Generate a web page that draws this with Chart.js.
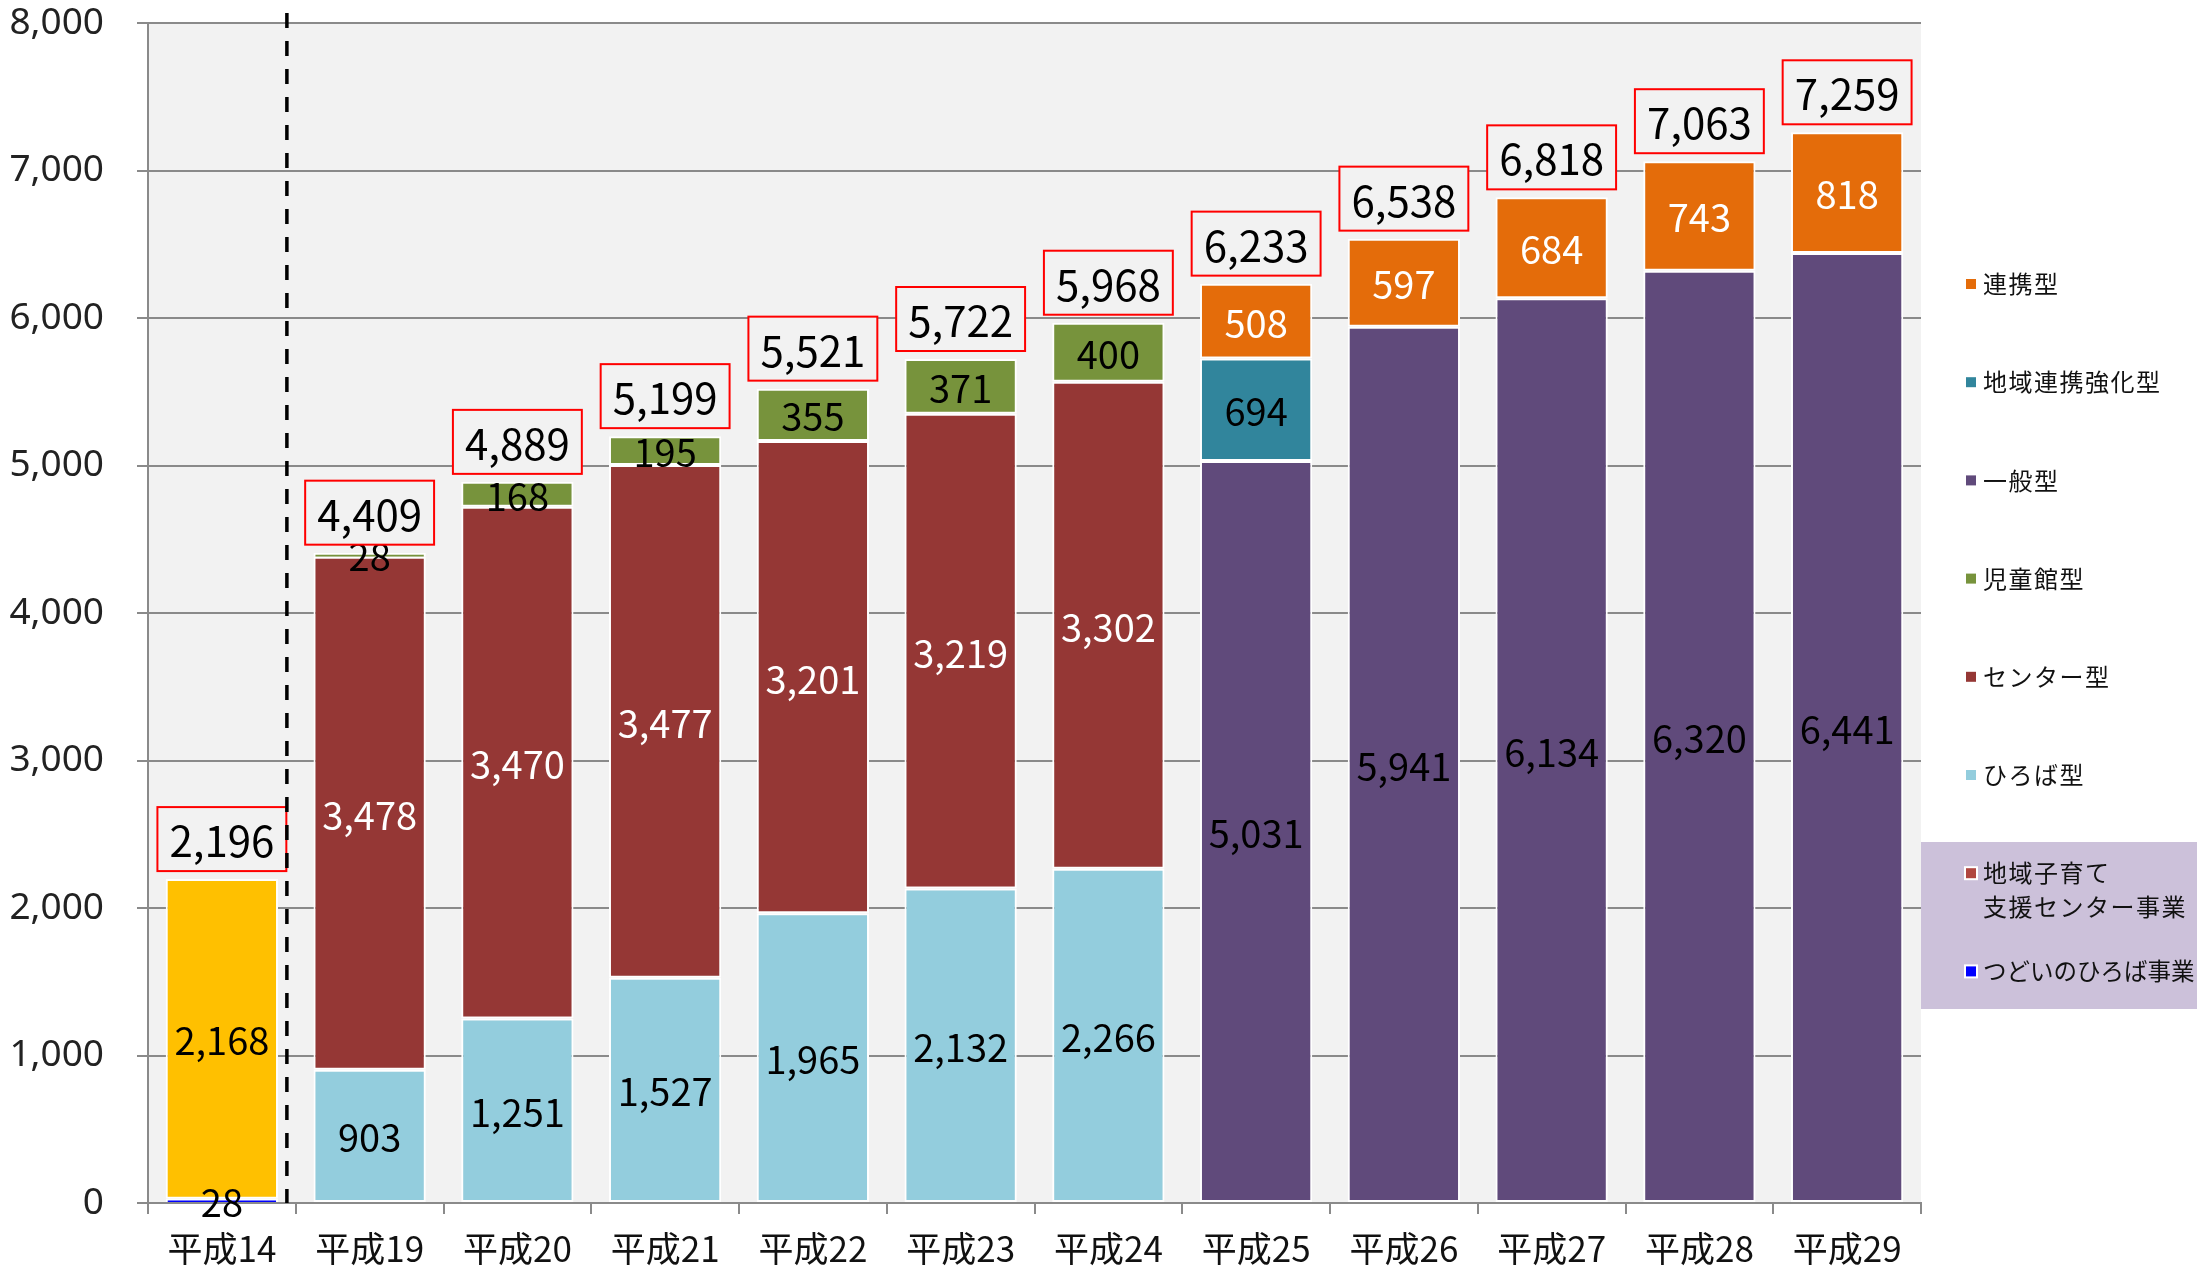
<!DOCTYPE html>
<html lang="ja">
<head>
<meta charset="utf-8">
<title>地域子育て支援拠点事業 実施か所数の推移</title>
<script src="https://cdn.jsdelivr.net/npm/chart.js@4.4.1/dist/chart.umd.min.js"></script>
<style>
    html, body { margin: 0; padding: 0; background: #fff; }
    #wrap { width: 2197px; height: 1267px; }
</style>
</head>
<body>
<div id="wrap"><canvas id="myChart" width="2197" height="1267"></canvas></div>
<script>
// Data (平成14 - 平成29)
const years = ['平成14', '平成19', '平成20', '平成21', '平成22', '平成23', '平成24', '平成25', '平成26', '平成27', '平成28', '平成29'];

const tsudoi      = [28,   null, null, null, null, null, null, null, null, null, null, null];
const shienCenter = [2168, null, null, null, null, null, null, null, null, null, null, null];
const hiroba      = [null, 903, 1251, 1527, 1965, 2132, 2266, null, null, null, null, null];
const centerType  = [null, 3478, 3470, 3477, 3201, 3219, 3302, null, null, null, null, null];
const jidokan     = [null, 28, 168, 195, 355, 371, 400, null, null, null, null, null];
const ippan       = [null, null, null, null, null, null, null, 5031, 5941, 6134, 6320, 6441];
const chiikiKyoka = [null, null, null, null, null, null, null, 694, null, null, null, null];
const renkei      = [null, null, null, null, null, null, null, 508, 597, 684, 743, 818];

const totals = [2196, 4409, 4889, 5199, 5521, 5722, 5968, 6233, 6538, 6818, 7063, 7259];

const legendLabels = [['連携型'], ['地域連携強化型'], ['一般型'], ['児童館型'], ['センター型'], ['ひろば型'], ['地域子育て', '支援センター事業'], ['つどいのひろば事業']];
const legendColors = ['#e46c0a', '#31859c', '#604a7b', '#77933c', '#953735', '#93cddd', '#b0463f', '#0000ff'];

const CJK = '"Noto Sans CJK JP", "Noto Sans", sans-serif';

function makeSet(label, data, color, textColor) {
    return {
        label: label,
        data: data,
        backgroundColor: color,
        borderColor: '#ffffff',
        borderWidth: function(c) {
            const v = c.raw;
            if (v != null && v < 50) return { top: 2, bottom: 0, left: 2, right: 2 };
            return 2;
        },
        borderSkipped: false,
        labelColor: textColor
    };
}

// plot background
const plotBg = {
    id: 'plotBg',
    beforeDraw(chart) {
        const a = chart.chartArea;
        const ctx = chart.ctx;
        ctx.save();
        ctx.fillStyle = '#f2f2f2';
        ctx.fillRect(a.left, a.top, a.right - a.left, a.bottom - a.top);
        ctx.restore();
    }
};

// values inside bars + total boxes + dashed separator
const barLabels = {
    id: 'barLabels',
    afterDatasetsDraw(chart) {
        const ctx = chart.ctx;
        ctx.save();
        ctx.textAlign = 'center';
        ctx.textBaseline = 'middle';
        ctx.font = '38px ' + CJK;
        chart.data.datasets.forEach(function(ds, i) {
            const meta = chart.getDatasetMeta(i);
            meta.data.forEach(function(bar, j) {
                const v = ds.data[j];
                if (v == null) return;
                ctx.fillStyle = ds.labelColor;
                ctx.fillText(v.toLocaleString('en-US'), bar.x, (bar.y + bar.base) / 2 + 2);
            });
        });

        const xs = chart.scales.x;
        const ys = chart.scales.y;
        ctx.font = '42px ' + CJK;
        totals.forEach(function(t, j) {
            const txt = t.toLocaleString('en-US');
            const x = xs.getPixelForValue(j);
            const top = ys.getPixelForValue(t);
            const w = ctx.measureText(txt).width + 24;
            const h = 64;
            const bx = x - w / 2;
            const by = top - 8 - h;
            ctx.fillStyle = '#f2f2f2';
            ctx.fillRect(bx, by, w, h);
            ctx.strokeStyle = '#ff0000';
            ctx.lineWidth = 2;
            ctx.strokeRect(bx, by, w, h);
            ctx.fillStyle = '#000';
            ctx.fillText(txt, x, by + h / 2 + 2);
        });

        // dashed separator between 平成14 and 平成19
        const x0 = xs.getPixelForValue(0);
        const x1 = xs.getPixelForValue(1);
        const dx = x0 + (x1 - x0) * 0.44;
        ctx.beginPath();
        ctx.setLineDash([15, 13]);
        ctx.lineWidth = 3.5;
        ctx.strokeStyle = '#000';
        ctx.moveTo(dx, chart.chartArea.top - 10);
        ctx.lineTo(dx, chart.chartArea.bottom);
        ctx.stroke();
        ctx.restore();
    }
};

// legend on the right
const sideLegend = {
    id: 'sideLegend',
    afterDraw(chart) {
        const ctx = chart.ctx;
        const left = chart.chartArea.right;
        ctx.save();
        ctx.fillStyle = '#ccc1da';
        ctx.fillRect(left, 842, chart.width - left, 167);
        ctx.textBaseline = 'middle';
        ctx.textAlign = 'left';
        legendLabels.forEach(function(lines, i) {
            const y = 284 + i * 98.2;
            const last = i === legendLabels.length - 1;
            ctx.font = (last ? '23.5px ' : '24px ') + CJK;
            if ('letterSpacing' in ctx) ctx.letterSpacing = last ? '0px' : '1.5px';
            if (i >= 6) {
                ctx.fillStyle = '#ffffff';
                ctx.fillRect(left + 43, y - 7, 14, 14);
            }
            ctx.fillStyle = legendColors[i];
            ctx.fillRect(left + 45, y - 5, 10, 10);
            ctx.fillStyle = '#111';
            lines.forEach(function(line, k) {
                ctx.fillText(line, left + 62, y + k * 34);
            });
        });
        ctx.restore();
    }
};

document.addEventListener('DOMContentLoaded', function() {
    const ctx = document.getElementById('myChart').getContext('2d');
    new Chart(ctx, {
        type: 'bar',
        data: {
            labels: years,
            datasets: [
                makeSet('つどいのひろば事業', tsudoi, '#0000ff', '#000'),
                makeSet('地域子育て支援センター事業', shienCenter, '#ffc000', '#000'),
                makeSet('ひろば型', hiroba, '#93cddd', '#000'),
                makeSet('センター型', centerType, '#953735', '#fff'),
                makeSet('児童館型', jidokan, '#77933c', '#000'),
                makeSet('一般型', ippan, '#604a7b', '#000'),
                makeSet('地域連携強化型', chiikiKyoka, '#31859c', '#000'),
                makeSet('連携型', renkei, '#e46c0a', '#fff')
            ]
        },
        options: {
            responsive: false,
            animation: false,
            layout: { padding: { left: 0, top: 23, right: 276, bottom: 0 } },
            datasets: { bar: { barPercentage: 0.76, categoryPercentage: 1 } },
            plugins: {
                legend: { display: false },
                tooltip: { enabled: false }
            },
            scales: {
                x: {
                    stacked: true,
                    afterFit: function(s) { s.height = 64; },
                    grid: { drawOnChartArea: false, drawTicks: true, tickLength: 11, offset: true, color: '#8a8a8a', lineWidth: 2 },
                    border: { display: true, color: '#8a8a8a', width: 2 },
                    ticks: { color: '#111', padding: 14, font: { family: CJK, size: 35 }, maxRotation: 0 }
                },
                y: {
                    stacked: true,
                    min: 0,
                    max: 8000,
                    afterFit: function(s) {
                        s.width = 148;
                        s.paddingTop = 0;
                        s.paddingBottom = 0;
                    },
                    grid: { color: '#8a8a8a', lineWidth: 2, tickLength: 11 },
                    border: { display: true, color: '#8a8a8a', width: 2 },
                    ticks: {
                        stepSize: 1000,
                        padding: 33,
                        color: '#222',
                        font: { family: '"Noto Sans", "Open Sans", sans-serif', size: 37 },
                        callback: function(v) { return v.toLocaleString('en-US'); }
                    }
                }
            }
        },
        plugins: [plotBg, barLabels, sideLegend]
    });
});
</script>
</body>
</html>
